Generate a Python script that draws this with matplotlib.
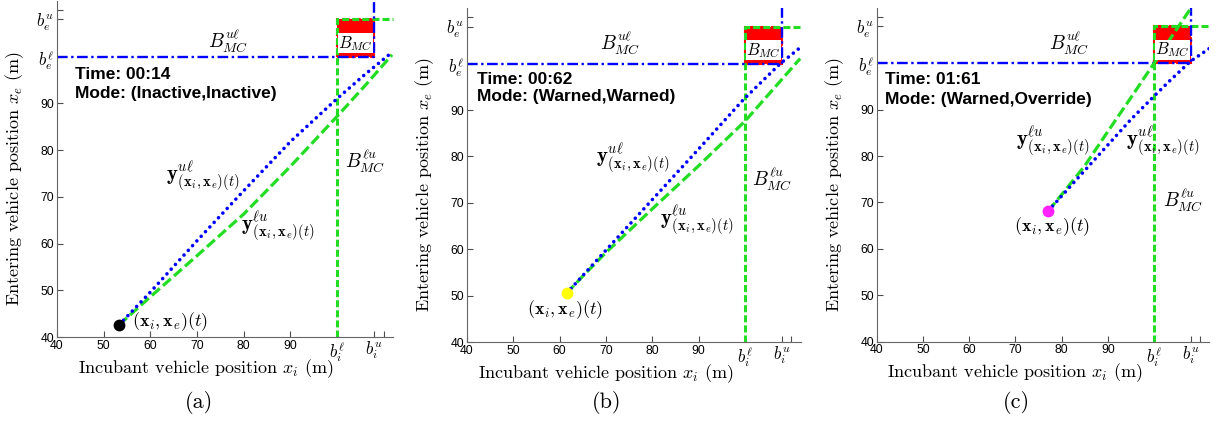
import numpy as np
import matplotlib.pyplot as plt

plt.rcParams['mathtext.fontset'] = 'cm'
plt.rcParams['font.family'] = ['Liberation Sans', 'DejaVu Sans']

# ticks shared by the three panels
tick_pos = [40, 50, 60, 70, 80, 90, 100, 108, 110]
xtick_lab = ['40', '50', '60', '70', '80', '90', r'$b_i^\ell$', r'$b_i^u$', '']
ytick_lab = ['40', '50', '60', '70', '80', '90', r'$b_e^\ell$', r'$b_e^u$', '']
b_low, b_up = 100, 108

# (a)
pt_a = [53.3, 42.6]
ul_xa = [53.3, 60, 70, 80, 90, 100, 106, 112]
ul_ya = [42.6, 49.6, 60.6, 71.3, 81.8, 91.0, 96.2, 101.1]
lu_xa = [53.3, 60, 70, 80, 90, 100, 106, 111.8]
lu_ya = [42.6, 48.6, 57.4, 66.3, 76.5, 87.2, 93.8, 100.4]

# (b)
pt_b = [61.5, 50.5]
ul_xb = [61.5, 70, 80, 90, 99.6, 104, 107.6, 111.7]
ul_yb = [50.5, 59.8, 70.7, 81.6, 92.2, 96.5, 100.0, 103.3]
lu_xb = [61.5, 65, 70, 80, 90, 100, 106, 111.9]
lu_yb = [50.5, 54.2, 59.3, 68.7, 78.0, 87.6, 94.4, 101.1]

# (c)
pt_c = [77.1, 68.2]
ul_xc = [77.1, 80, 85, 90, 95, 100, 104, 108, 112]
ul_yc = [68.2, 71.4, 76.9, 82.4, 87.9, 92.9, 96.8, 100.5, 103.2]
lu_xc = [77.1, 80, 85, 90, 95, 100, 104, 108.2]
lu_yc = [68.2, 71.7, 77.9, 85.3, 92.6, 100.0, 106.0, 112.2]

times = ['Time: 00:14', 'Time: 00:62', 'Time: 01:61']
modes = ['Mode: (Inactive,Inactive)', 'Mode: (Warned,Warned)', 'Mode: (Warned,Override)']
captions = ['(a)', '(b)', '(c)']
dot_cols = ['black', '#ffff00', '#ff22ff']

GREEN = '#22dd22'
BLUE = '#0000ff'

fig = plt.figure(figsize=(12.18, 4.23), dpi=100)
W, H = 1218, 423
rects = [(57, 337, 336, 336.4), (467, 342, 333.6, 334), (877, 341.7, 332.4, 334.1)]
axs = [fig.add_axes([l / W, (H - b) / H, w / W, h / H]) for l, b, w, h in rects]

data = [(pt_a, ul_xa, ul_ya, lu_xa, lu_ya),
        (pt_b, ul_xb, ul_yb, lu_xb, lu_yb),
        (pt_c, ul_xc, ul_yc, lu_xc, lu_yc)]
xlab_x = [0.443, 0.417, 0.416]

for k, ax in enumerate(axs):
    pt, ulx, uly, lux, luy = data[k]
    ax.set_xlim(40, 112)
    ax.set_ylim(40, 112)
    for s in ['top', 'right']:
        ax.spines[s].set_visible(False)
    for s in ['left', 'bottom']:
        ax.spines[s].set_color('0.4')
    ax.set_xticks(tick_pos)
    ax.set_xticklabels(xtick_lab)
    ax.set_yticks(tick_pos)
    ax.set_yticklabels(ytick_lab)
    ax.tick_params(direction='in', length=4, color='0.3', labelsize=8.7, pad=2)
    for lab in ax.get_xticklabels()[6:8] + ax.get_yticklabels()[6:8]:
        lab.set_fontsize(12)

    # unsafe set box
    ax.fill([b_low, b_up, b_up, b_low], [b_low, b_low, b_up, b_up], color='red',
            ec='red', lw=1.5, ls='--', zorder=1)
    # B_MC^{lu} boundary (green) and B_MC^{ul} boundary (blue)
    ax.plot([b_low, b_low, 112], [40, b_up, b_up], color=GREEN, lw=2.2,
            ls=(0, (2.3, 1.0)), zorder=2, clip_on=False)
    ax.plot([40, b_up, b_up], [b_low, b_low, 112], color=BLUE, lw=1.7,
            ls=(0, (4.5, 1.5, 1, 1.5)), zorder=2, clip_on=False)

    # trajectories
    ax.plot(lux, luy, color=GREEN, lw=2.3, ls=(0, (3.3, 1.3)), zorder=3)
    ax.plot(ulx, uly, color=BLUE, lw=2.6, ls=(0, (0.01, 1.75)),
            dash_capstyle='round', zorder=4)
    ax.plot(pt[0], pt[1], 'o', color=dot_cols[k], ms=7.5, zorder=5)

    ax.text(104, 102.9, r'$B_{MC}$', fontsize=12, ha='center', va='center',
            bbox=dict(fc='white', ec='none', pad=0.2), zorder=6)

    ax.set_xlabel(r'Incubant vehicle position $x_i$ (m)', fontfamily='cmr10',
                  fontsize=13)
    ax.set_ylabel(r'Entering vehicle position $x_e$ (m)', fontfamily='cmr10',
                  fontsize=13)
    ax.yaxis.set_label_coords(-0.092, 0.47)
    ax.xaxis.set_label_coords(xlab_x[k], -0.06)

# panel texts
tx = [43.9, 42.1, 41.7]
ty = [96.2, 96.5, 96.4]
my = [92.2, 92.9, 92.3]
for k, ax in enumerate(axs):
    ax.text(tx[k], ty[k], times[k], fontsize=12.5, fontweight='bold', va='center')
    ax.text(tx[k], my[k], modes[k], fontsize=12.5, fontweight='bold', va='center')

yul = r'$\mathbf{y}^{u\ell}_{(\mathbf{x}_i,\mathbf{x}_e)(t)}$'
ylu = r'$\mathbf{y}^{\ell u}_{(\mathbf{x}_i,\mathbf{x}_e)(t)}$'
bul = r'$B^{u\ell}_{MC}$'
blu = r'$B^{\ell u}_{MC}$'
pxe = r'$(\mathbf{x}_i,\mathbf{x}_e)(t)$'
FY, FB, FP = 15, 14, 13

a, b, c = axs
a.text(76.6, 103.2, bul, fontsize=FB, ha='center', va='center')
a.text(71.3, 74.5, yul, fontsize=FY, ha='center', va='center')
a.text(87.4, 63.8, ylu, fontsize=FY, ha='center', va='center')
a.text(106, 77.7, blu, fontsize=FB, ha='center', va='center')
a.text(64.2, 43.2, pxe, fontsize=FP, ha='center', va='center')

b.text(73.0, 104.4, bul, fontsize=FB, ha='center', va='center')
b.text(75.8, 79.7, yul, fontsize=FY, ha='center', va='center')
b.text(89.6, 66.3, ylu, fontsize=FY, ha='center', va='center')
b.text(105.8, 75.1, blu, fontsize=FB, ha='center', va='center')
b.text(61.2, 46.9, pxe, fontsize=FP, ha='center', va='center')

c.text(81.6, 104.3, bul, fontsize=FB, ha='center', va='center')
c.text(78.1, 83.3, ylu, fontsize=FY, ha='center', va='center')
c.text(101.9, 83.3, yul, fontsize=FY, ha='center', va='center')
c.text(106.3, 70.5, blu, fontsize=FB, ha='center', va='center')
c.text(77.9, 64.9, pxe, fontsize=FP, ha='center', va='center')

for xc, cap in zip([199, 607, 1016], captions):
    fig.text(xc / W, (H - 402) / H, cap, fontfamily='cmr10', fontsize=16,
             ha='center', va='center')

fig.savefig('out.png', dpi=100)
